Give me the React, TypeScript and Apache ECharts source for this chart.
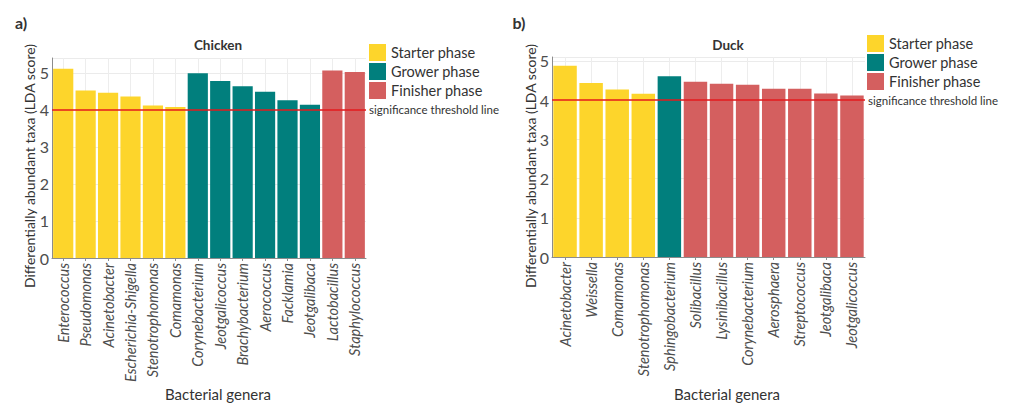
import React, { useEffect, useRef } from "react";
import * as echarts from "echarts";

const phases = ["Starter phase", "Grower phase", "Finisher phase"];
const phaseColors = ["#FDD52B", "#017F7D", "#D45F5F"];

const chickenGenera = [
  "Enterococcus", "Pseudomonas", "Acinetobacter", "Escherichia-Shigella",
  "Stenotrophomonas", "Comamonas", "Corynebacterium", "Jeotgalicoccus",
  "Brachybacterium", "Aerococcus", "Facklamia", "Jeotgalibaca",
  "Lactobacillus", "Staphylococcus",
];
const chickenLDA = [5.11, 4.52, 4.46, 4.36, 4.12, 4.08, 4.99, 4.78, 4.64, 4.49, 4.26, 4.14, 5.06, 5.02];
const chickenPhase = [0, 0, 0, 0, 0, 0, 1, 1, 1, 1, 1, 1, 2, 2];

const duckGenera = [
  "Acinetobacter", "Weissella", "Comamonas", "Stenotrophomonas",
  "Sphingobacterium", "Solibacillus", "Lysinibacillus", "Corynebacterium",
  "Aerosphaera", "Streptococcus", "Jeotgalibaca", "Jeotgalicoccus",
];
const duckLDA = [4.88, 4.44, 4.27, 4.16, 4.61, 4.47, 4.42, 4.39, 4.29, 4.29, 4.17, 4.12];
const duckPhase = [0, 0, 0, 0, 1, 2, 2, 2, 2, 2, 2, 2];

const yTicks = [0, 1, 2, 3, 4, 5];
const threshold = 4;

const FONT = "Lato, 'Open Sans', sans-serif";

function buildSeries(values: number[], phaseIdx: number[], axis: number) {
  return phases.map((p, k) => ({
    name: p,
    type: "bar",
    xAxisIndex: axis,
    yAxisIndex: axis,
    barGap: "-100%",
    barCategoryGap: "10%",
    itemStyle: { color: phaseColors[k] },
    data: values.map((v, i) => (phaseIdx[i] === k ? v : null)),
    markLine:
      k === 0
        ? {
            silent: true,
            symbol: ["none", "none"],
            lineStyle: { color: "#E41A1C", width: 1.5, type: "solid" },
            label: {
              show: true,
              position: "end",
              formatter: "significance threshold line",
              fontSize: 11.5,
              fontFamily: FONT,
              color: "#333",
              distance: 3,
            },
            data: [{ yAxis: threshold }],
          }
        : undefined,
  }));
}

function xAxisCfg(cats: string[], grid: number) {
  return {
    type: "category",
    gridIndex: grid,
    data: cats,
    axisLine: { show: true, lineStyle: { color: "#8c8c8c" } },
    axisTick: { show: true, alignWithLabel: true, length: 3, lineStyle: { color: "#8c8c8c" } },
    splitLine: { show: true, alignWithLabel: true, lineStyle: { color: "#ededed" } },
    axisLabel: {
      interval: 0,
      rotate: 90,
      fontStyle: "italic",
      fontSize: 14.5,
      fontFamily: FONT,
      color: "#4d4d4d",
      margin: 5,
    },
  };
}

function yAxisCfg(grid: number, max: number) {
  return {
    type: "value",
    gridIndex: grid,
    min: yTicks[0],
    max,
    interval: 1,
    axisLine: { show: true, lineStyle: { color: "#8c8c8c" } },
    axisTick: { show: false },
    splitLine: { show: true, lineStyle: { color: "#ebebeb" } },
    axisLabel: {
      showMaxLabel: false,
      fontSize: 16,
      fontFamily: FONT,
      color: "#4d4d4d",
      margin: 3,
    },
  };
}

function txt(text: string, x: number, y: number, opts: any = {}) {
  return {
    type: "text",
    x,
    y,
    rotation: opts.rotation || 0,
    style: {
      text,
      x: 0,
      y: 0,
      textAlign: opts.align || "center",
      textVerticalAlign: "middle",
      fontSize: opts.size || 14,
      fontWeight: opts.bold ? "bold" : "normal",
      fontFamily: FONT,
      fill: opts.color || "#333",
    },
  };
}

export default function App() {
  const ref = useRef<HTMLDivElement>(null);
  useEffect(() => {
    if (!ref.current) return;
    const chart = echarts.init(ref.current, undefined, { renderer: "svg" });
    const legendCfg = (left: number, top: number) => ({
      left,
      top,
      orient: "vertical",
      icon: "rect",
      itemWidth: 17,
      itemHeight: 17,
      itemGap: 2,
      selectedMode: false,
      textStyle: { fontSize: 14.5, fontFamily: FONT, color: "#333", padding: [0, 0, 0, 0] },
      data: phases,
    });
    chart.setOption({
      animation: false,
      backgroundColor: "#ffffff",
      grid: [
        { left: 52, right: 1014 - 366, top: 58, bottom: 403 - 258, containLabel: false },
        { left: 552, right: 1014 - 865, top: 57, bottom: 403 - 257, containLabel: false },
      ],
      xAxis: [xAxisCfg(chickenGenera, 0), xAxisCfg(duckGenera, 1)],
      yAxis: [yAxisCfg(0, 5.4), yAxisCfg(1, 5.1)],
      legend: [legendCfg(364, 39), legendCfg(862, 30)],
      series: [
        ...buildSeries(chickenLDA, chickenPhase, 0),
        ...buildSeries(duckLDA, duckPhase, 1),
      ],
      graphic: [
        txt("a)", 21, 22, { bold: true, size: 16 }),
        txt("b)", 519, 22, { bold: true, size: 16 }),
        txt("Chicken", 218, 45, { bold: true, size: 13.5 }),
        txt("Duck", 728, 45, { bold: true, size: 13.5 }),
        txt("Differentially abundant taxa (LDA score)", 29, 166, { rotation: Math.PI / 2, size: 14 }),
        txt("Differentially abundant taxa (LDA score)", 530, 166, { rotation: Math.PI / 2, size: 14 }),
        txt("Bacterial genera", 218, 394, { size: 15 }),
        txt("Bacterial genera", 727, 394, { size: 15 }),
      ],
    });
    return () => chart.dispose();
  }, []);
  return (
    <div
      ref={ref}
      style={{ position: "absolute", left: 0, top: 0, width: 1014, height: 403 }}
    />
  );
}
